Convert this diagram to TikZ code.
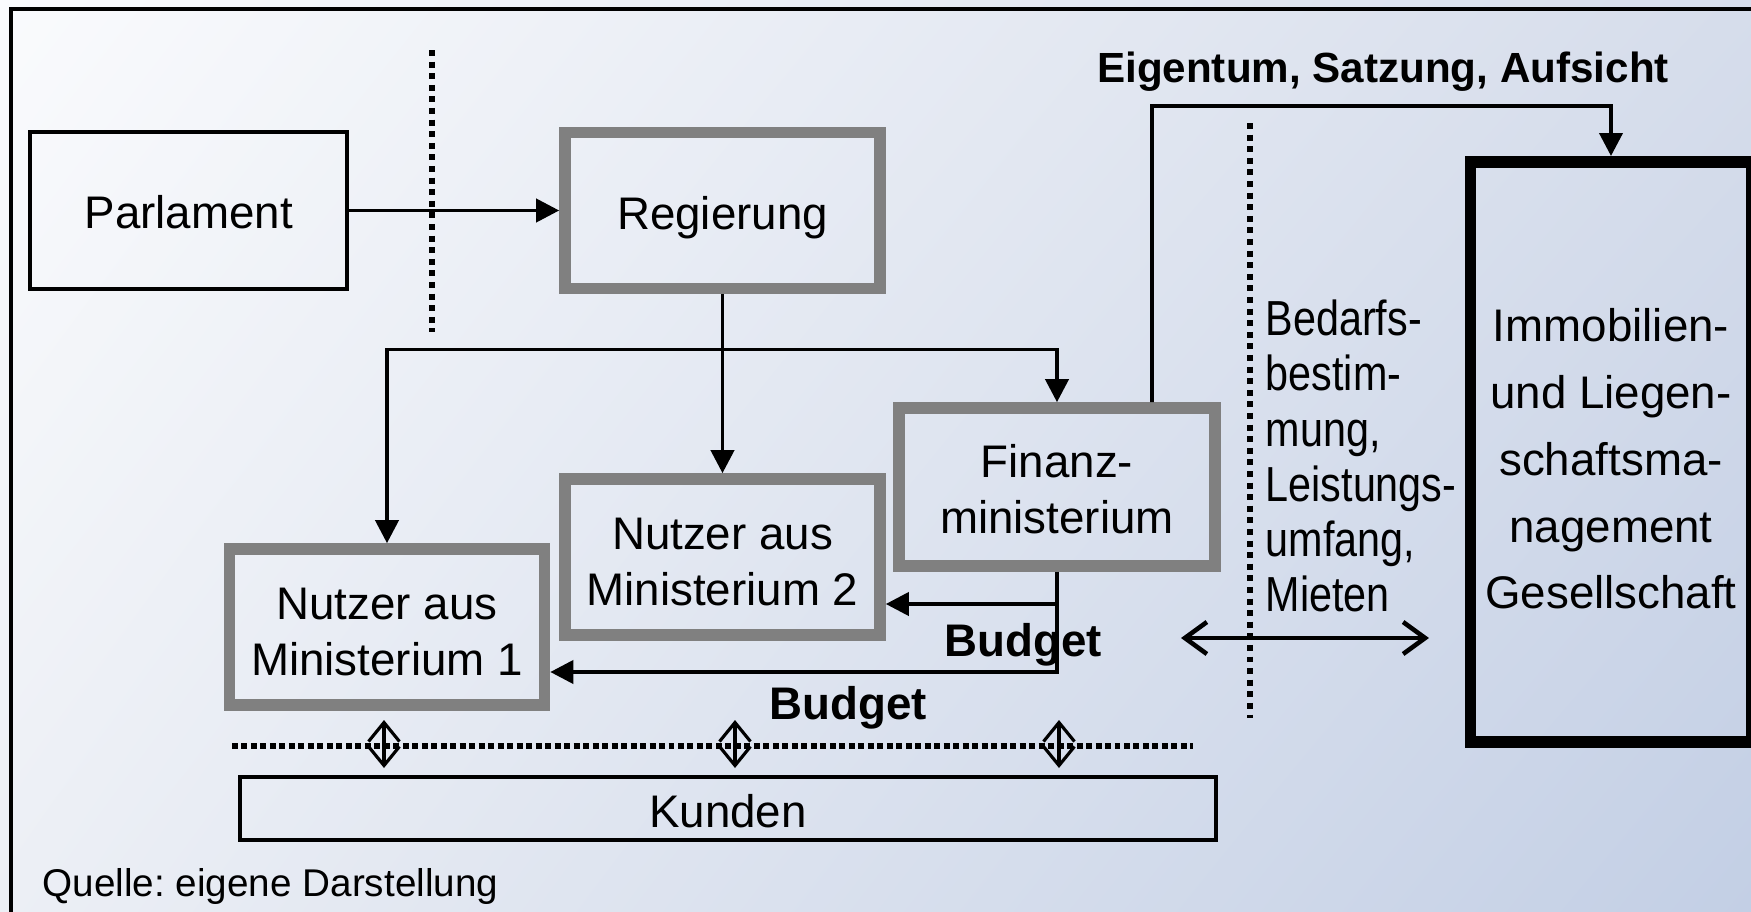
\documentclass[tikz,border=0pt]{standalone}
\usepackage{fontspec}
\setmainfont{Liberation Sans}
\newfontfamily\narrowfont[FakeStretch=0.84]{Liberation Sans}
\usetikzlibrary{arrows.meta,shadings}
\definecolor{boxgray}{RGB}{128,128,128}
\definecolor{bgtl}{RGB}{250,251,253}
\definecolor{bgtr}{RGB}{214,221,235}
\definecolor{bgbl}{RGB}{236,239,245}
\definecolor{bgbr}{RGB}{195,207,229}
\newcommand{\toprule}[1]{\rule{0pt}{#1}}

\begin{document}
\frenchspacing
\begin{tikzpicture}[line join=miter,>={Triangle[length=2.3mm,width=2.3mm]},x=1cm,y=1cm,
  txt/.style={font=\fontsize{13}{15.9}\selectfont,align=center,inner sep=0pt},
  plainbox/.style={txt,draw=black,line width=1pt},
  graybox/.style={txt,draw=boxgray,line width=3.3pt,minimum width=3.15cm,minimum height=1.56cm},
  lbl/.style={font=\fontsize{13}{15.9}\selectfont\bfseries,inner sep=0pt},
  conn/.style={line width=1.1pt},
  dotline/.style={line width=1.7pt,dash pattern=on 1.7pt off 1.6pt},
  hdotline/.style={line width=1.6pt,dash pattern=on 1.7pt off 1pt},
  dbl/.style={line width=0.9pt,{Straight Barb[length=1.9mm,width=3.1mm]}-{Straight Barb[length=1.9mm,width=3.1mm]}}]
\useasboundingbox (0,0) rectangle (17.51,-9.12);
\clip (0,0) rectangle (17.51,-9.12);
\shade[upper left=bgtl,upper right=bgtr,lower left=bgbl,lower right=bgbr] (0,0) rectangle (17.51,-9.12);
\draw[line width=1.2pt] (0.11,-9.6) -- (0.11,-0.09) -- (17.9,-0.09);
\node[plainbox,minimum width=3.17cm,minimum height=1.57cm,text height=10.6pt] (parl) at (1.887,-2.105) {Parlament};
\node[graybox,text height=13.5pt] (reg) at (7.225,-2.105) {Regierung};
\node[graybox] (n2) at (7.225,-5.57) {\toprule{12pt}Nutzer aus\\Ministerium 2};
\node[graybox] (n1) at (3.87,-6.27) {\toprule{12pt}Nutzer aus\\Ministerium 1};
\node[graybox,minimum width=3.16cm,minimum height=1.58cm] (fin) at (10.57,-4.87) {\toprule{10.4pt}Finanz-\\ministerium};
\node[txt,draw=black,line width=3.4pt,minimum width=2.81cm,minimum height=5.80cm] (imm) at (16.11,-4.52) {};
\node[txt,font=\fontsize{13}{19}\selectfont] (immtxt) at (16.11,-4.59) {Immobilien-\\und Liegen-\\schaftsma-\\nagement\\Gesellschaft};
\node[plainbox,minimum width=9.76cm,minimum height=0.63cm,text height=11pt] (kunden) at (7.28,-8.085) {Kunden};
\draw[dotline] (4.32,-0.50) -- (4.32,-3.32);
\draw[dotline] (12.50,-1.23) -- (12.50,-7.18);
\draw[hdotline] (2.32,-7.46) -- (11.93,-7.46);
\draw[->,conn] (parl) -- (reg);
\draw[->,conn] (reg) -- (n2);
\coordinate (split) at (7.225,-3.495);
\draw[->,conn] (split) -| (n1);
\draw[->,conn] (split) -| (fin);
\draw[->,conn] (fin.south) |- ([yshift=-4.7mm]n2.east);
\draw[->,conn] (fin.south) |- ([yshift=-4.5mm]n1.east);
\node[lbl] (budfin) at (10.235,-6.445) {Budget};
\node[lbl] (budmin) at (8.48,-7.075) {Budget};
\coordinate (own) at (11.52,-1.06);
\draw[->,conn] ([xshift=9.5mm]fin.north) -- (own) -| (imm.north);
\node[lbl,font=\fontsize{12}{14}\selectfont\bfseries] (ownlbl) at (13.83,-0.715) {Eigentum, Satzung, Aufsicht};
\node[txt,font=\fontsize{14}{15.7}\selectfont\narrowfont,align=left,anchor=west] (need) at (12.65,-4.56) {Bedarfs-\\bestim-\\mung,\\Leistungs-\\umfang,\\Mieten};
\draw[line width=1.3pt,{Straight Barb[length=2.2mm,width=3.2mm]}-{Straight Barb[length=2.2mm,width=3.2mm]}] (11.81,-6.38) -- (14.29,-6.38);
\foreach \xx in {3.84,7.35,10.59}
  \draw[dbl] (\xx,-7.20) -- (\xx,-7.68);
\node[anchor=west,inner sep=0pt,font=\fontsize{11}{13}\selectfont] (src) at (0.42,-8.865) {Quelle: eigene Darstellung};
\end{tikzpicture}
\end{document}
